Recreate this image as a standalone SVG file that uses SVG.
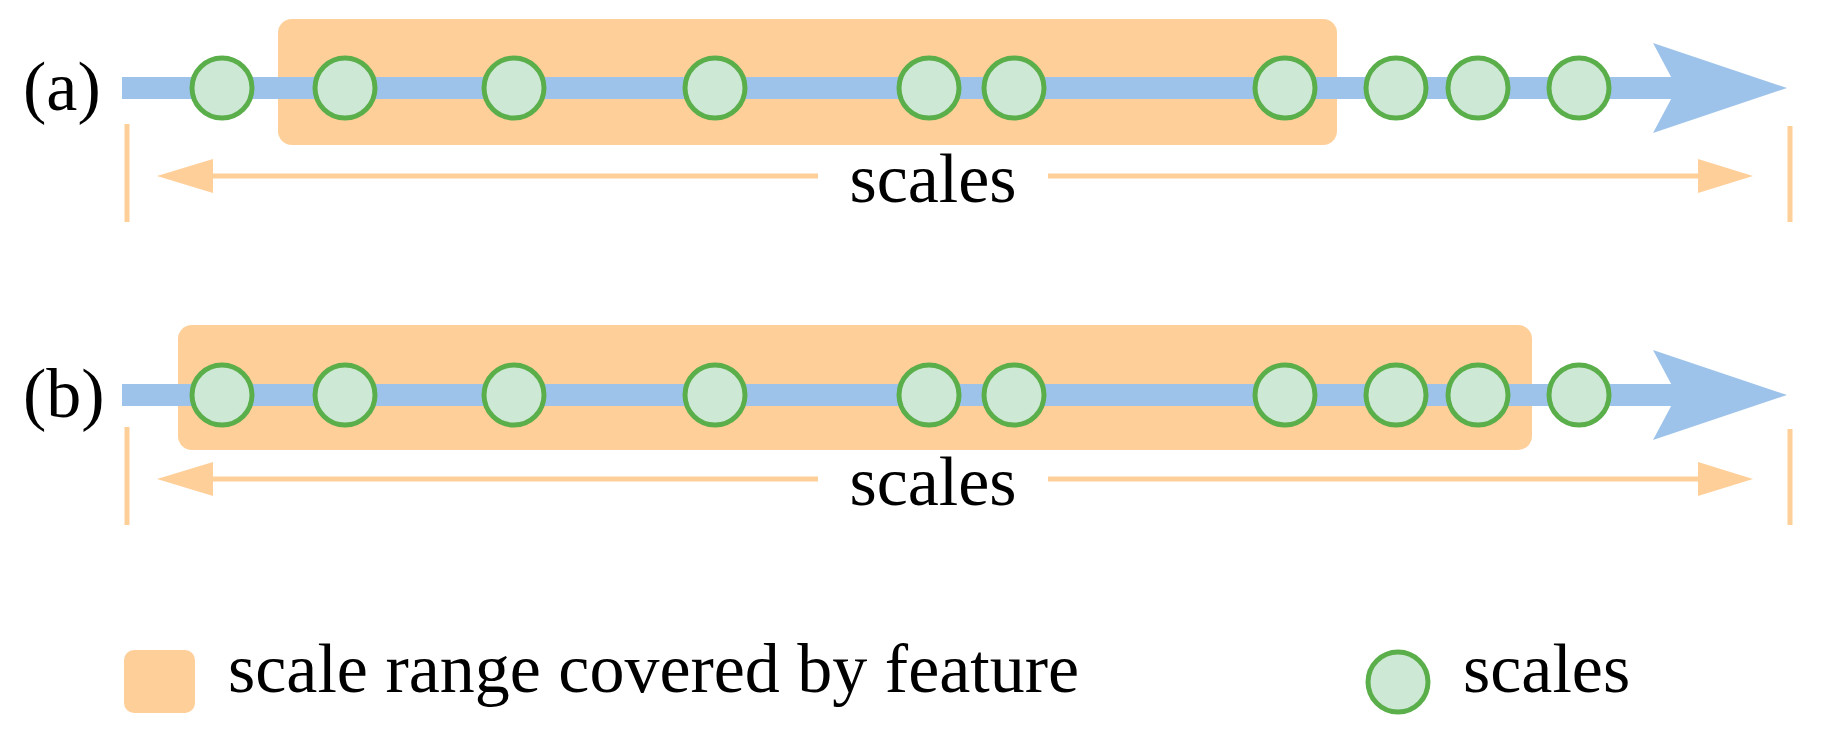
<svg xmlns="http://www.w3.org/2000/svg" width="1832" height="741" viewBox="0 0 1832 741">
<style>
.t{font-family:"Liberation Serif",serif;font-size:70px;fill:#000}
.rng{fill:#ffcf99}
.bar{fill:#9ec3ea}
.c{fill:#cde8d4;stroke:#5aaf4b;stroke-width:5}
.ln{stroke:#ffcf99;stroke-width:5;fill:none}
.ah{fill:#ffcf99}
</style>
<defs>
<g id="axis"><rect class="bar" x="122" y="-11" width="1560" height="22"/><polygon class="bar" points="1653,-45 1787,0 1653,45 1677,0"/></g>
<g id="dots">
<circle class="c" cx="222" r="30"/><circle class="c" cx="345" r="30"/><circle class="c" cx="514" r="30"/><circle class="c" cx="715" r="30"/><circle class="c" cx="929" r="30"/><circle class="c" cx="1014" r="30"/><circle class="c" cx="1285" r="30"/><circle class="c" cx="1396" r="30"/><circle class="c" cx="1478" r="30"/><circle class="c" cx="1579" r="30"/>
</g>
<g id="span">
<line class="ln" x1="127" y1="-52" x2="127" y2="46"/><line class="ln" x1="1790" y1="-50" x2="1790" y2="46"/>
<line class="ln" x1="205" y1="0" x2="818" y2="0"/><line class="ln" x1="1048" y1="0" x2="1705" y2="0"/>
<polygon class="ah" points="157,0 213,-17 213,17"/><polygon class="ah" points="1753,0 1698,-17 1698,17"/>
</g>
</defs>
<g id="row-a">
<rect class="rng" x="278" y="19" width="1059" height="126" rx="14"/>
<use href="#axis" y="88"/><use href="#dots" y="88"/>
<text class="t" x="23" y="110">(a)</text>
</g>
<g id="row-b">
<rect class="rng" x="178" y="325" width="1354" height="125" rx="14"/>
<use href="#axis" y="395"/><use href="#dots" y="395"/>
<text class="t" x="23" y="417">(b)</text>
</g>
<g id="connectors">
<use href="#span" y="176"/>
<text class="t" x="933" y="202" text-anchor="middle">scales</text>
<use href="#span" y="479"/>
<text class="t" x="933" y="505" text-anchor="middle">scales</text>
</g>
<g id="legend">
<rect class="rng" x="124" y="650" width="71" height="63" rx="10"/>
<text class="t" x="228" y="692">scale range covered by feature</text>
<circle class="c" cx="1398" cy="682" r="30"/>
<text class="t" x="1463" y="692">scales</text>
</g>
</svg>
